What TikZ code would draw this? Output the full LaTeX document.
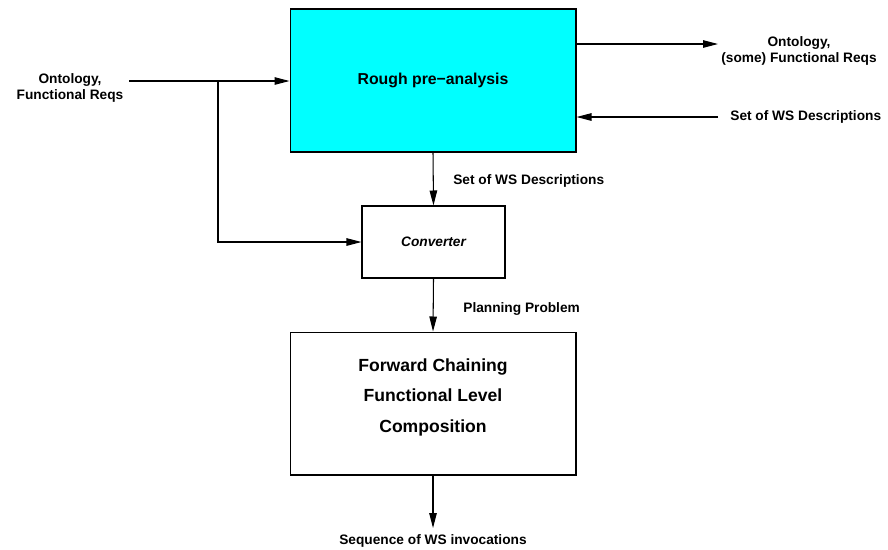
\documentclass[tikz,border=0pt]{standalone}
\usepackage{fontspec}
\setmainfont{Liberation Sans}
\usetikzlibrary{arrows.meta}

\definecolor{roughcyan}{RGB}{0,255,255}

\tikzset{
  block/.style={draw, line width=0.6pt, minimum width=5.72cm, minimum height=2.86cm},
  arr/.style={line width=0.6pt, -{Triangle[length=3mm, width=1.5mm]}},
  lbl/.style={font=\fontsize{7.8}{9.6}\selectfont\bfseries, align=center, inner sep=0pt}
}

\begin{document}
\begin{tikzpicture}[x=0.02cm, y=-0.02cm]

  % Fix the frame of the picture
  \useasboundingbox (0,0) rectangle (888,549);

  % The three boxes
  \node[block, fill=roughcyan, font=\fontsize{9}{11}\selectfont\bfseries] (rough) at (433,80.5) {Rough pre−analysis};
  \node[block, minimum width=2.86cm, minimum height=1.44cm, font=\fontsize{7.8}{9.4}\selectfont\bfseries\itshape] (conv) at (433.5,242) {Converter};
  \node[block, align=center, text depth=9pt, font=\fontsize{10}{17.6}\selectfont\bfseries] (chain) at (433,403.5) {Forward Chaining\\Functional Level\\Composition};

  % Free ends of the connectors
  \coordinate (inL) at (129,81);
  \coordinate (split) at (218,81);
  \coordinate (outR) at (718,44);
  \coordinate (inR) at (718,117);
  \coordinate (seq) at (433,528);

  % Connectors
  \draw[arr] (inL) -- (rough.west |- inL);
  \draw[arr] (split) |- (conv.west);
  \draw[arr] (rough.east |- outR) -- (outR);
  \draw[arr] (inR) -- (rough.east |- inR);
  \draw[arr] (rough.south) -- (conv.north);
  \draw[arr] (conv.south) -- (chain.north);
  \draw[arr] (chain.south) -- (seq);

  % Labels
  \node[lbl] (ontL) at (70,88) {Ontology,\\Functional Reqs};
  \node[lbl] (ontR) at (799,51) {Ontology,\\(some) Functional Reqs};
  \node[lbl, anchor=west] (wsR) at (730,117) {Set of WS Descriptions};
  \node[lbl, anchor=west] (wsD) at (453,181) {Set of WS Descriptions};
  \node[lbl, anchor=west] (plan) at (463,309) {Planning Problem};
  \node[lbl] (seqL) at (433,541) {Sequence of WS invocations};

\end{tikzpicture}
\end{document}
